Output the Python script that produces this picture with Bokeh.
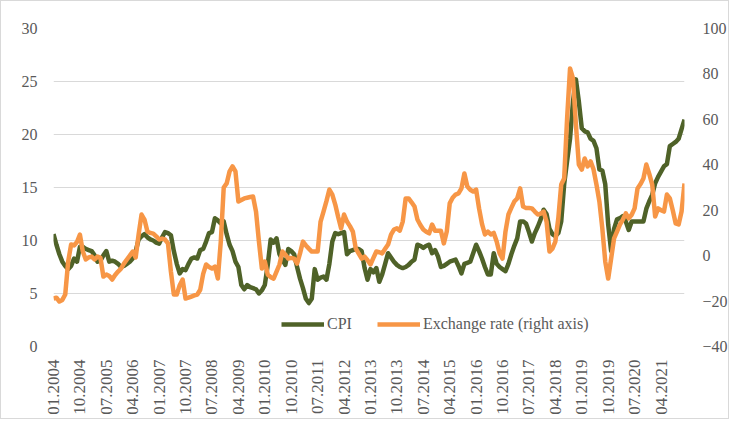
from bokeh.plotting import figure
from bokeh.models import Range1d, LinearAxis, FixedTicker, Legend, LegendItem, ColumnDataSource
from bokeh.embed import file_html
from bokeh.resources import INLINE
from math import pi

# Monthly data, 01.2004 .. 12.2021
cpi = [
    10.6, 9.6, 8.7, 8.0, 7.6, 7.3, 7.6, 8.3, 8.0, 9.4, 9.4, 9.2,
    9.1, 9.0, 8.6, 8.0, 8.1, 8.6, 9.0, 8.0, 8.1, 8.0, 7.8, 7.5,
    7.6, 7.8, 8.0, 8.3, 9.0, 10.1, 10.4, 10.6, 10.3, 10.1, 10.0, 9.8,
    9.7, 10.3, 10.8, 10.7, 10.5, 9.0, 7.8, 6.9, 7.3, 7.2, 7.8, 8.3,
    8.4, 8.3, 9.1, 9.2, 9.9, 10.7, 10.8, 12.1, 11.9, 11.6, 11.8, 10.6,
    9.6, 9.0, 8.0, 7.5, 5.8, 5.4, 5.8, 5.6, 5.5, 5.4, 5.0, 5.3,
    5.8, 7.7, 10.1, 9.8, 10.2, 8.7, 8.2, 7.7, 9.2, 9.0, 8.7, 7.5,
    6.4, 5.5, 4.5, 4.1, 4.5, 7.3, 6.3, 6.5, 6.6, 6.3, 7.8, 9.9,
    10.7, 10.6, 10.7, 10.8, 8.7, 9.0, 9.1, 9.2, 9.2, 9.0, 7.4, 6.3,
    7.3, 7.0, 7.4, 6.1, 6.8, 7.8, 8.8, 8.4, 8.0, 7.7, 7.5, 7.4,
    7.5, 7.7, 8.0, 8.2, 9.6, 9.5, 9.3, 9.5, 9.6, 8.8, 9.1, 8.5,
    7.5, 7.6, 7.8, 8.0, 8.1, 8.2, 7.6, 6.9, 7.8, 7.9, 8.0, 8.8,
    9.6, 9.0, 8.3, 7.5, 6.8, 6.8, 8.8, 7.8, 7.5, 7.3, 7.1, 7.8,
    8.7, 9.5, 10.2, 11.8, 11.8, 11.6, 10.8, 9.9, 10.7, 11.3, 12.0, 12.9,
    12.5, 11.1, 10.6, 10.4, 10.7, 11.8, 15.3, 17.5, 19.6, 23.1, 25.2, 23.1,
    20.6, 20.3, 20.2, 19.6, 19.4, 18.7, 16.7, 16.6, 15.3, 11.5, 9.0, 11.1,
    12.0, 12.1, 12.3, 11.8, 11.0, 11.8, 11.8, 11.8, 11.8, 11.8, 13.0, 13.7,
    14.3, 15.4, 16.0, 16.5, 17.0, 17.2, 18.9, 19.1, 19.3, 19.6, 20.5, 21.4,
]

exchange_rate = [
    -18.9, -18.5, -20.2, -19.5, -17.1, -2.6, 4.9, 4.5, 6.0, 9.3, 1.8, -1.7,
    -0.8, -0.4, -1.7, -0.4, -1.0, -9.2, -8.3, -9.0, -10.5, -8.5, -7.0, -5.7,
    -3.5, -1.7, 0.0, 1.8, -0.8, 9.3, 18.1, 15.9, 10.6, 10.0, 9.7, 8.5,
    7.1, 7.5, 7.1, 5.4, -7.0, -17.1, -17.1, -13.0, -10.5, -18.9, -18.5, -18.0,
    -17.5, -17.1, -15.0, -8.0, -3.9, -5.0, -5.7, -4.8, -10.1, 6.2, 30.0, 31.8,
    37.1, 39.3, 37.1, 23.8, 24.5, 25.2, 25.5, 25.8, 26.0, 19.4, 6.2, -5.7,
    -2.6, -8.3, -9.5, -10.1, -7.0, -3.9, 1.8, 0.5, -1.3, -1.0, -1.3, -3.5,
    1.0, 6.2, 4.5, 3.1, 1.8, 1.8, 1.8, 15.0, 19.4, 24.0, 29.1, 26.9,
    22.5, 17.0, 12.0, 18.1, 15.0, 13.0, 10.6, 3.1, 0.9, -1.3, -0.4, -2.0,
    -3.9, -1.0, 1.8, 1.5, 1.0, 3.0, 4.9, 9.3, 11.5, 12.0, 11.0, 15.0,
    25.2, 25.2, 23.5, 21.6, 15.9, 13.5, 11.5, 10.5, 9.8, 13.7, 11.0, 11.0,
    11.0, 5.4, 10.6, 23.0, 25.5, 26.9, 27.4, 29.6, 36.2, 30.4, 29.0, 28.2,
    29.1, 20.8, 14.0, 9.3, 10.6, 9.3, 10.0, 6.2, 1.0, -1.3, 10.6, 18.1,
    21.0, 23.8, 25.2, 29.6, 21.6, 21.0, 21.0, 20.8, 19.4, 18.1, 18.5, 19.4,
    15.0, 1.8, 3.1, 6.2, 16.4, 31.3, 34.0, 60.4, 82.4, 78.0, 57.7, 40.1,
    37.9, 42.8, 39.3, 41.5, 38.0, 31.3, 23.8, 12.0, -2.6, -10.1, -1.3, 7.6,
    10.6, 13.7, 15.9, 18.6, 16.4, 18.0, 20.8, 29.6, 31.5, 34.0, 40.1, 36.0,
    31.3, 17.2, 20.8, 20.0, 19.4, 26.9, 25.2, 20.0, 14.2, 13.7, 19.4, 31.8,
]

tick_labels = ["01.2004", "10.2004", "07.2005", "04.2006", "01.2007", "10.2007",
               "07.2008", "04.2009", "01.2010", "10.2010", "07.2011", "04.2012",
               "01.2013", "10.2013", "07.2014", "04.2015", "01.2016", "10.2016",
               "07.2017", "04.2018", "01.2019", "10.2019", "07.2020", "04.2021"]
left_ticks = [0, 5, 10, 15, 20, 25, 30]
right_ticks = [-40, -20, 0, 20, 40, 60, 80, 100]

months = list(range(len(cpi)))
tick_pos = [i * 9 for i in range(len(tick_labels))]

FONT = "Liberation Serif"
TXT = "#595959"
GREEN = "#4F6228"
ORANGE = "#F79646"

src = ColumnDataSource(dict(m=months, cpi=cpi, fx=exchange_rate))

p = figure(width=729, height=419, output_backend="svg", toolbar_location=None,
           x_range=Range1d(0, len(cpi) - 1), y_range=Range1d(0, 30),
           min_border_left=52, min_border_right=37, min_border_top=27, min_border_bottom=74)
p.extra_y_ranges = {"fx": Range1d(-40, 100)}
p.outline_line_color = None
p.background_fill_color = "white"
p.border_fill_color = "white"
p.styles = {"border": "1px solid #d9d9d9"}

r_cpi = p.line("m", "cpi", source=src, line_color=GREEN, line_width=4.5, line_join="round")
r_fx = p.line("m", "fx", source=src, line_color=ORANGE, line_width=4.5, line_join="round",
              y_range_name="fx")

# x axis
xa = p.xaxis[0]
xa.ticker = FixedTicker(ticks=tick_pos)
xa.major_label_overrides = {t: l for t, l in zip(tick_pos, tick_labels)}
xa.major_label_orientation = pi / 2
xa.axis_line_color = None
xa.major_tick_line_color = None
xa.minor_tick_line_color = None
xa.major_label_text_font = FONT
xa.major_label_text_font_size = "17px"
xa.major_label_text_color = TXT
xa.major_label_standoff = 7

ya = p.yaxis[0]
ya.ticker = FixedTicker(ticks=left_ticks)
ya.axis_line_color = None
ya.major_tick_line_color = None
ya.minor_tick_line_color = None
ya.major_label_text_font = FONT
ya.major_label_text_font_size = "16px"
ya.major_label_text_color = TXT
ya.major_label_standoff = 10

ra = LinearAxis(y_range_name="fx", ticker=FixedTicker(ticks=right_ticks))
ra.axis_line_color = None
ra.major_tick_line_color = None
ra.minor_tick_line_color = None
ra.major_label_text_font = FONT
ra.major_label_text_font_size = "16px"
ra.major_label_text_color = TXT
ra.major_label_standoff = 12
p.add_layout(ra, "right")

p.xgrid.visible = False
p.ygrid.ticker = FixedTicker(ticks=left_ticks)
p.ygrid.grid_line_color = "#d9d9d9"
p.ygrid.grid_line_width = 1

legend = Legend(items=[LegendItem(label="CPI", renderers=[r_cpi]),
                       LegendItem(label="Exchange rate (right axis)", renderers=[r_fx])],
                orientation="horizontal", location=(228, 12))
legend.padding = 0
legend.margin = 0
legend.spacing = 25
legend.glyph_width = 43
legend.glyph_height = 20
legend.label_height = 20
legend.label_standoff = 3
legend.label_text_font = FONT
legend.label_text_font_size = "16px"
legend.label_text_color = TXT
legend.background_fill_alpha = 0
legend.border_line_color = None
p.add_layout(legend, "center")

open("out.html", "w").write(file_html(p, INLINE))
